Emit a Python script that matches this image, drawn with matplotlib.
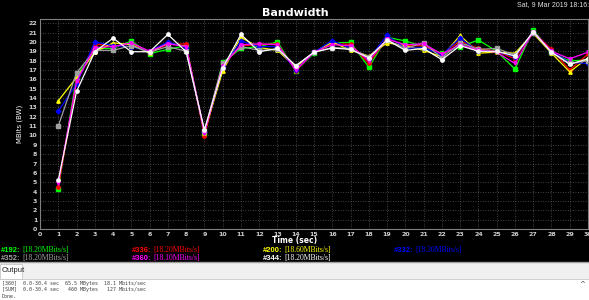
import numpy as np
import matplotlib
matplotlib.use("Agg")
import matplotlib.pyplot as plt
from matplotlib.patches import Rectangle

# ── data ─────────────────────────────────────────────────────────────────────
t = list(range(1, 31))

bw_192 = [4.3, 16.3, 19.3, 19.3, 20.1, 18.75, 19.2, 19.6, 10.15, 17.8, 19.3, 19.5, 20.0, 16.9, 18.8,
          19.9, 19.95, 17.3, 20.5, 20.1, 19.5, 18.8, 19.5, 20.2, 19.0, 17.1, 21.3, 18.9, 17.95, 18.1]
bw_336 = [4.5, 15.7, 19.8, 19.5, 19.8, 19.0, 19.7, 19.8, 9.95, 17.5, 19.6, 19.7, 19.8, 16.9, 18.9,
          19.8, 19.75, 17.7, 20.4, 19.6, 19.6, 18.7, 20.1, 19.3, 19.0, 18.2, 21.1, 19.2, 17.0, 18.7]
bw_200 = [13.7, 16.2, 18.9, 19.9, 19.7, 18.8, 19.9, 19.5, 10.3, 16.9, 20.5, 19.4, 19.1, 17.3, 18.9,
          20.0, 19.1, 18.5, 19.9, 19.6, 19.1, 18.4, 20.7, 18.8, 18.9, 18.8, 20.9, 18.8, 16.8, 18.3]
bw_332 = [12.6, 15.5, 20.0, 19.6, 19.5, 19.0, 20.0, 19.4, 10.4, 17.3, 20.1, 19.5, 19.5, 17.0, 18.9,
          20.15, 19.3, 18.2, 20.7, 19.3, 19.4, 18.6, 20.4, 19.0, 19.0, 18.4, 21.1, 19.0, 17.8, 17.7]
bw_352 = [11.0, 16.7, 19.1, 19.1, 19.6, 18.9, 19.5, 19.0, 10.5, 17.7, 19.5, 19.1, 19.2, 17.45, 18.9,
          19.4, 19.3, 18.4, 20.2, 19.3, 19.9, 18.3, 19.9, 19.2, 19.3, 18.6, 21.0, 18.9, 17.7, 18.0]
bw_360 = [4.9, 15.8, 19.4, 19.5, 19.9, 19.0, 19.8, 19.5, 10.3, 17.4, 19.7, 19.8, 19.7, 17.0, 18.9,
          19.7, 19.6, 18.0, 20.3, 19.7, 19.8, 18.7, 19.7, 19.1, 18.9, 17.7, 21.1, 19.0, 18.2, 18.9]
bw_344 = [5.2, 14.7, 18.95, 20.4, 18.95, 18.95, 20.8, 18.95, 10.6, 17.2, 20.8, 18.95, 19.3, 17.45, 18.9,
          19.35, 19.2, 18.3, 20.2, 19.1, 19.3, 18.1, 19.6, 19.0, 19.0, 18.5, 21.1, 18.9, 17.6, 18.2]

ids    = ["#192", "#336", "#200", "#332", "#352", "#360", "#344"]
series = [bw_192, bw_336, bw_200, bw_332, bw_352, bw_360, bw_344]
rates  = ["[18.20MBits/s]", "[18.20MBits/s]", "[18.60MBits/s]", "[18.30MBits/s]",
          "[18.20MBits/s]", "[18.10MBits/s]", "[18.20MBits/s]"]

COLORS  = ["#00ff00", "#ff0000", "#ffff00", "#0000ff", "#a0a0a0", "#ff00ff", "#ffffff"]
MARKERS = ["s", "o", "^", "D", "s", "v", "o"]

output_lines = [
    "[360]  0.0-30.4 sec  65.5 MBytes  18.1 Mbits/sec",
    "[SUM]  0.0-30.4 sec   460 MBytes   127 Mbits/sec",
    "Done.",
]

W, H = 589, 300
def fx(px): return px / W
def fy(py): return 1 - py / H

fig = plt.figure(figsize=(W / 100, H / 100), dpi=100, facecolor="black")

# ── chart ────────────────────────────────────────────────────────────────────
ax = fig.add_axes([fx(40), fy(229), fx(548), (229 - 19) / H], facecolor="black")
for s, c, m in zip(series, COLORS, MARKERS):
    ax.plot(t, s, color=c, lw=0.9, marker=m, ms=2.4, mec=c, mfc=c, clip_on=False)

ax.set_xlim(0, 30)
ax.set_ylim(0, 22.45)
ax.set_xticks(range(0, 31))
ax.set_yticks(range(0, 23))
ax.tick_params(colors="#d0d0d0", labelsize=4.5, length=0, pad=2)
for lab in ax.get_xticklabels() + ax.get_yticklabels():
    lab.set_fontweight("bold")
ax.grid(True, color="#5a5a5a", ls=(0, (1, 2)), lw=0.6)
for sp in ax.spines.values():
    sp.set_color("#808080")
    sp.set_linewidth(0.8)
ax.set_ylabel("MBits (BW)", color="white", fontsize=5, labelpad=4)

fig.text(fx(295), fy(241), "Time (sec)", color="white", fontsize=5.5, fontweight="bold",
         ha="center", va="center")
fig.text(fx(295), fy(13), "Bandwidth", color="white", fontsize=8, fontweight="bold",
         ha="center", va="center")
fig.text(fx(517), fy(5), "Sat, 9 Mar 2019 18:16:3", color="#e0e0e0", fontsize=5,
         ha="left", va="center", family="Liberation Sans")

# ── legend rows ──────────────────────────────────────────────────────────────
pos = [(1, 250), (132, 250), (263, 250), (394, 250), (1, 258), (132, 258), (263, 258)]
for (px, py), name, rate, c in zip(pos, ids, rates, COLORS):
    fig.text(fx(px), fy(py), name + ":", color=c, fontsize=5.5, fontweight="bold",
             ha="left", va="center", family="Liberation Sans")
    fig.text(fx(px + 21), fy(py), rate, color=c, fontsize=5.5,
             ha="left", va="center", family="Liberation Serif")

# ── output panel ─────────────────────────────────────────────────────────────
fig.patches.append(Rectangle((0, 0), 1, fy(262), transform=fig.transFigure,
                             facecolor="white", edgecolor="none", zorder=0))
fig.patches.append(Rectangle((0, fy(279)), 1, (279 - 262) / H, transform=fig.transFigure,
                             facecolor="#f0f0f0", edgecolor="none", zorder=0))
fig.patches.append(Rectangle((0, fy(279)), fx(22), (279 - 264) / H, transform=fig.transFigure,
                             facecolor="#ffffff", edgecolor="#c8c8c8", lw=0.6, zorder=1))
fig.lines.append(plt.Line2D([0, 1], [fy(262), fy(262)], transform=fig.transFigure,
                            color="#a0a0a0", lw=1))
fig.lines.append(plt.Line2D([0, 1], [fy(279), fy(279)], transform=fig.transFigure,
                            color="#c8c8c8", lw=0.6))
fig.text(fx(2), fy(271), "Output", color="#202020", fontsize=5.5, ha="left", va="center",
         family="Liberation Sans")
for i, line in enumerate(output_lines):
    fig.text(fx(2), fy(283 + 7 * i), line, color="#404040", fontsize=3.6, ha="left",
             va="center", family="DejaVu Sans Mono")
fig.text(fx(582), fy(284), "^", color="#404040", fontsize=5, ha="center", va="center")

fig.savefig("out.png", dpi=100, facecolor=fig.get_facecolor())
